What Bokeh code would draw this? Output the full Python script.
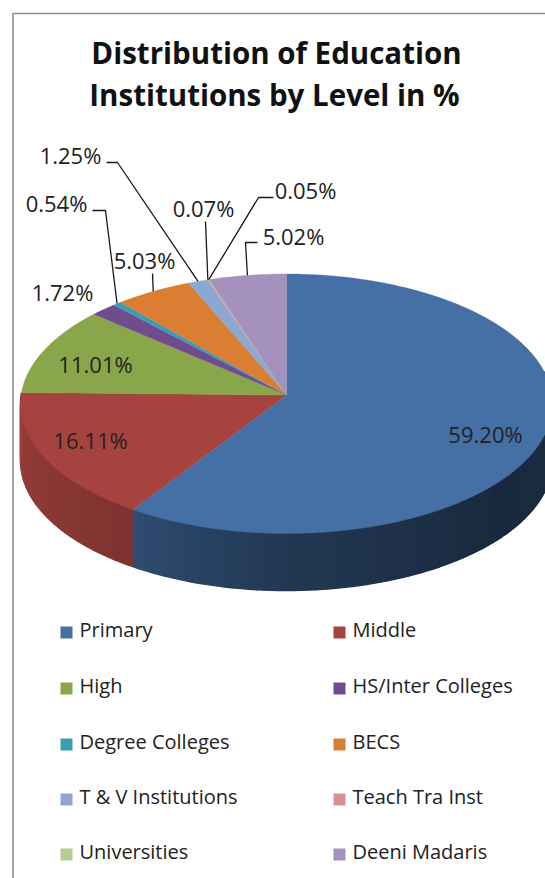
import numpy as np
from bokeh.plotting import figure
from bokeh.models import ColumnDataSource
from bokeh.core.properties import value
from bokeh.embed import file_html
from bokeh.resources import INLINE

# ---- data ----
title_lines = ["Distribution of Education", "Institutions by Level in %"]
categories = ["Primary", "Middle", "High", "HS/Inter Colleges", "Degree Colleges",
              "BECS", "T & V Institutions", "Teach Tra Inst", "Universities", "Deeni Madaris"]
percent = [59.20, 16.11, 11.01, 1.72, 0.54, 5.03, 1.25, 0.07, 0.05, 5.02]
percent_labels = ["59.20%", "16.11%", "11.01%", "1.72%", "0.54%", "5.03%", "1.25%", "0.07%", "0.05%", "5.02%"]
colors = ["#4570a6", "#a6433f", "#8aa64b", "#6f4c8e", "#3d9bb2", "#da7e34",
          "#8ba8d3", "#d49391", "#b6cd8f", "#a491bd"]

# ---- layout (page pixels) ----
W, H = 545, 878
CX, CY, RX, K, A, DEPTH = 286, 394.5, 265.4, 0.0674, 129.2, 57
LABEL_XY = [(485, 433), (90, 439), (95, 363), (62, 291), (56, 202), (144, 259), (70, 154), (203, 207), (305, 189), (293, 235)]
LEADER_ELBOWS = {4: [(92, 210), (105, 210)], 5: [(152, 273)], 6: [(106, 162), (117, 162)],
                 7: [(205, 221)], 8: [(273, 197), (258, 197)], 9: [(257, 242), (245, 242)]}
FONT = "Open Sans"
TEXT = "#222222"


def project(theta_deg, r=1.0):
    t = np.radians(theta_deg)
    u, v = r * np.sin(t), r * np.cos(t)
    d = 1 + K * v
    return CX + RX * u / d, CY - A * v / d


def shade(theta):
    return np.interp(theta, [90, 130, 180, 213, 213.2, 271, 360], [.42, .37, .50, .68, .76, .93, .93])


def darker(hex_col, f):
    rgb = [int(hex_col[i:i + 2], 16) for i in (1, 3, 5)]
    return "#%02x%02x%02x" % tuple(int(c * f) for c in rgb)


p = figure(width=W, height=H, x_range=(0, W), y_range=(H, 0), output_backend="svg",
           toolbar_location=None, min_border=0, x_axis_location=None, y_axis_location=None)
p.grid.visible = False
p.outline_line_color = None
p.background_fill_color = "white"

# chart frame
p.line([12.5, 12.5, 545], [878, 13, 13], line_color="#8f8f8f", line_width=1.6)

edges = np.concatenate([[0], np.cumsum(percent)]) * 3.6

# side wall, as small shaded quads (only the part facing the viewer)
sx, sy, sc = [], [], []
for i, col in enumerate(colors):
    a0, a1 = edges[i], edges[i + 1]
    n = max(int((a1 - a0) / 1.5), 1)
    steps = np.linspace(a0, a1, n + 1)
    for s0, s1 in zip(steps[:-1], steps[1:]):
        if s1 < 80 or s0 >= 271:
            continue
        x0, y0 = project(s0)
        x1, y1 = project(s1)
        c = darker(col, shade((s0 + s1) / 2))
        sx.append([x0, x1, x1, x0])
        sy.append([y0, y1, y1 + DEPTH, y0 + DEPTH])
        sc.append(c)
p.patches(sx, sy, fill_color=sc, line_color=sc, line_width=1.4)

# top face
tx, ty = [], []
for i in range(len(percent)):
    th = np.linspace(edges[i], edges[i + 1], max(int((edges[i + 1] - edges[i]) * 2), 2) + 1)
    x, y = project(th)
    tx.append([CX] + list(x))
    ty.append([CY] + list(y))
p.patches(tx, ty, fill_color=colors, line_color=colors, line_width=0.3)

# leader lines
mids = (edges[:-1] + edges[1:]) / 2
for i, elbow in LEADER_ELBOWS.items():
    ax, ay = project(mids[i])
    xs = [e[0] for e in elbow] + [float(ax)]
    ys = [e[1] for e in elbow] + [float(ay)]
    p.line(xs, ys, line_color="#1a1a1a", line_width=1.3)

# data labels
p.text(x=[c[0] for c in LABEL_XY], y=[c[1] for c in LABEL_XY], text=percent_labels,
       text_font=value(FONT), text_font_size="22px", text_color=TEXT,
       text_align="center", text_baseline="middle")

# title
p.text(x=[276, 274], y=[52, 94], text=title_lines, text_font=value("Open Sans"), text_font_style="bold",
       text_font_size="29.5px", text_color="#111111", text_align="center", text_baseline="middle")

# legend
row_y = [632, 688, 744, 799, 854]
lx = [66 if i % 2 == 0 else 339 for i in range(len(categories))]
ly = [row_y[i // 2] for i in range(len(categories))]
leg = ColumnDataSource(dict(x=lx, y=ly, tx=[v + 13 for v in lx], ty=[v - 3 for v in ly], c=colors, name=categories))
p.rect(x="x", y="y", width=12, height=12, width_units="screen", height_units="screen",
       fill_color="c", line_color=None, source=leg)
p.text(x="tx", y="ty", text="name", text_font=value(FONT), text_font_size="20px", text_color=TEXT,
       text_align="left", text_baseline="middle", source=leg)

open("out.html", "w").write(file_html(p, INLINE))
